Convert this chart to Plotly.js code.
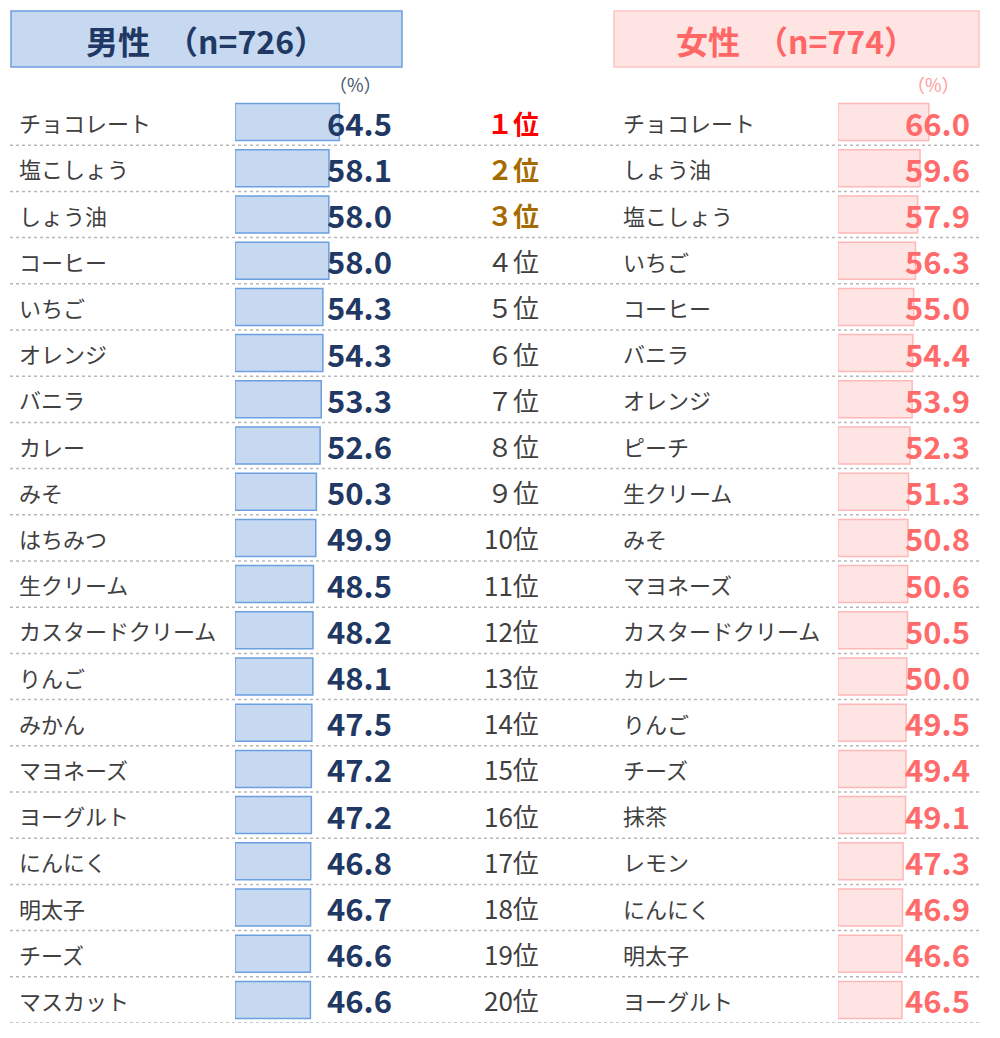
<!DOCTYPE html>
<html>
<head>
<meta charset="utf-8">
<script src="https://cdn.plot.ly/plotly-3.0.1.min.js"></script>
<style>body{margin:0;padding:0;background:#fff}#chart{width:1000px;height:1038px}</style>
</head>
<body>
<div id="chart"></div>
<script>
// ---- data ----
const maleTitle = "男性　（n=726）";
const femaleTitle = "女性　（n=774）";
const maleItems = ["チョコレート","塩こしょう","しょう油","コーヒー","いちご","オレンジ","バニラ","カレー","みそ","はちみつ","生クリーム","カスタードクリーム","りんご","みかん","マヨネーズ","ヨーグルト","にんにく","明太子","チーズ","マスカット"];
const maleValues = [64.5,58.1,58.0,58.0,54.3,54.3,53.3,52.6,50.3,49.9,48.5,48.2,48.1,47.5,47.2,47.2,46.8,46.7,46.6,46.6];
const femaleItems = ["チョコレート","しょう油","塩こしょう","いちご","コーヒー","バニラ","オレンジ","ピーチ","生クリーム","みそ","マヨネーズ","カスタードクリーム","カレー","りんご","チーズ","抹茶","レモン","にんにく","明太子","ヨーグルト"];
const femaleValues = [66.0,59.6,57.9,56.3,55.0,54.4,53.9,52.3,51.3,50.8,50.6,50.5,50.0,49.5,49.4,49.1,47.3,46.9,46.6,46.5];
const rankLabels = ["１位","２位","３位","４位","５位","６位","７位","８位","９位","10位","11位","12位","13位","14位","15位","16位","17位","18位","19位","20位"];
const unitLabel = "（%）";

// ---- style ----
const FONT = "'Noto Sans CJK JP', 'Noto Sans', sans-serif";
const H = 1038;
const py = p => 1 - p / H;
const navy = "#1f3864";
const pinkText = "#ff6b6b";
const gray = "#404040";

const rows = maleItems.map((_, i) => i);

const traces = [
  {
    type: "bar", orientation: "h",
    x: maleValues, y: rows,
    xaxis: "x", yaxis: "y",
    width: 0.8,
    marker: {color: "#c6d9f1", line: {color: "#6c9fe0", width: 1.5}},
    hoverinfo: "skip"
  },
  {
    type: "bar", orientation: "h",
    x: femaleValues, y: rows,
    xaxis: "x2", yaxis: "y2",
    width: 0.8,
    marker: {color: "#ffe4e4", line: {color: "#ffb8b8", width: 1.5}},
    hoverinfo: "skip"
  }
];

const annotations = [];
const shapes = [];

// header boxes
shapes.push({type: "rect", xref: "paper", yref: "paper", x0: 11/1000, x1: 402/1000, y0: py(67), y1: py(11),
  fillcolor: "#c6d9f1", line: {color: "#6c9fe0", width: 1.5}, layer: "below"});
shapes.push({type: "rect", xref: "paper", yref: "paper", x0: 614/1000, x1: 979/1000, y0: py(67), y1: py(11),
  fillcolor: "#ffe4e4", line: {color: "#ffc4c4", width: 1.5}, layer: "below"});
annotations.push({xref: "paper", yref: "paper", x: 206/1000, y: py(40), text: "<b>" + maleTitle + "</b>",
  showarrow: false, xanchor: "center", yanchor: "middle", font: {family: FONT, size: 32, color: navy}});
annotations.push({xref: "paper", yref: "paper", x: 796/1000, y: py(40), text: "<b>" + femaleTitle + "</b>",
  showarrow: false, xanchor: "center", yanchor: "middle", font: {family: FONT, size: 32, color: "#ff6666"}});

// unit labels
annotations.push({xref: "paper", yref: "paper", x: 384/1000, y: py(84), text: unitLabel,
  showarrow: false, xanchor: "right", yanchor: "middle", font: {family: FONT, size: 18, color: "#44546a"}});
annotations.push({xref: "paper", yref: "paper", x: 962/1000, y: py(84), text: unitLabel,
  showarrow: false, xanchor: "right", yanchor: "middle", font: {family: FONT, size: 18, color: "#ff9a9a"}});

rows.forEach(i => {
  annotations.push({xref: "paper", yref: "y", x: 17/1000, y: i, text: maleItems[i], showarrow: false,
    xanchor: "left", yanchor: "middle", font: {family: FONT, size: 22, color: gray}});
  annotations.push({xref: "paper", yref: "y", x: 394/1000, y: i, text: "<b>" + maleValues[i].toFixed(1) + "</b>", showarrow: false,
    xanchor: "right", yanchor: "middle", font: {family: FONT, size: 31, color: navy}});
  let rc = gray, rt = rankLabels[i];
  if (i === 0) { rc = "#ff0000"; rt = "<b>" + rt + "</b>"; }
  else if (i < 3) { rc = "#a56b00"; rt = "<b>" + rt + "</b>"; }
  annotations.push({xref: "paper", yref: "y", x: 541/1000, y: i, text: rt, showarrow: false,
    xanchor: "right", yanchor: "middle", font: {family: FONT, size: 26, color: rc}});
  annotations.push({xref: "paper", yref: "y2", x: 621/1000, y: i, text: femaleItems[i], showarrow: false,
    xanchor: "left", yanchor: "middle", font: {family: FONT, size: 22, color: gray}});
  annotations.push({xref: "paper", yref: "y2", x: 972/1000, y: i, text: "<b>" + femaleValues[i].toFixed(1) + "</b>", showarrow: false,
    xanchor: "right", yanchor: "middle", font: {family: FONT, size: 31, color: pinkText}});
  shapes.push({type: "line", xref: "paper", yref: "y", x0: 10/1000, x1: 980/1000, y0: i + 0.5, y1: i + 0.5,
    line: {color: "#b8b8b8", width: 1.5, dash: "dot"}, layer: "below"});
});

const yDom = [py(1023), py(99)];
const layout = {
  width: 1000, height: 1038,
  margin: {l: 0, r: 0, t: 0, b: 0},
  paper_bgcolor: "#fff", plot_bgcolor: "rgba(0,0,0,0)",
  showlegend: false,
  xaxis: {domain: [0.235, 0.60], range: [0, 365/1.618], visible: false, fixedrange: true},
  xaxis2: {domain: [0.838, 1.0], range: [0, 162/1.376], visible: false, fixedrange: true},
  yaxis: {domain: yDom, range: [19.5, -0.5], visible: false, anchor: "x"},
  yaxis2: {domain: yDom, range: [19.5, -0.5], visible: false, anchor: "x2"},
  annotations: annotations,
  shapes: shapes,
  font: {family: FONT}
};

Plotly.newPlot("chart", traces, layout, {displayModeBar: false, staticPlot: true});
</script>
</body>
</html>
